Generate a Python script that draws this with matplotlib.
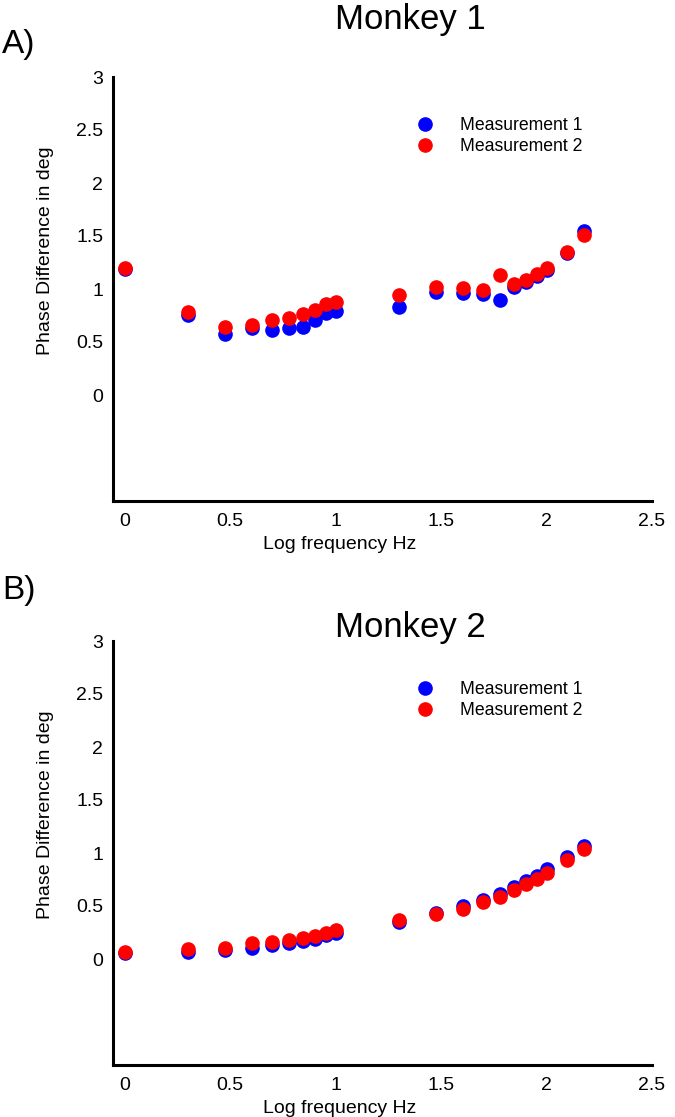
import numpy as np
import matplotlib.pyplot as plt

plt.rcParams['font.family'] = ['Liberation Sans', 'DejaVu Sans']

# stimulation frequencies in Hz (plotted as log10)
freqs = [1, 2, 3, 4, 5, 6, 7, 8, 9, 10, 20, 30, 40, 50, 60, 70, 80, 90, 100, 125, 150]

# Monkey 1
m1_meas1 = [1.19, 0.755, 0.575, 0.63, 0.61, 0.63, 0.645, 0.705, 0.77, 0.79,
            0.83, 0.975, 0.965, 0.955, 0.895, 1.02, 1.07, 1.125, 1.18, 1.34, 1.55]
m1_meas2 = [1.2, 0.785, 0.64, 0.665, 0.705, 0.73, 0.76, 0.80, 0.86, 0.875,
            0.945, 1.015, 1.005, 0.995, 1.13, 1.045, 1.085, 1.14, 1.195, 1.35, 1.51]

# Monkey 2
m2_meas1 = [0.06, 0.07, 0.085, 0.107, 0.135, 0.148, 0.17, 0.192, 0.227, 0.249,
            0.353, 0.43, 0.50, 0.558, 0.615, 0.68, 0.735, 0.785, 0.85, 0.965, 1.07]
m2_meas2 = [0.07, 0.092, 0.107, 0.151, 0.161, 0.177, 0.199, 0.218, 0.249, 0.274,
            0.368, 0.429, 0.476, 0.539, 0.587, 0.653, 0.712, 0.754, 0.816, 0.934, 1.038]

xticks = [0, 0.5, 1, 1.5, 2, 2.5]
xticklabels = ["0", "0.5", "1", "1.5", "2", "2.5"]
yticks = [0, 0.5, 1, 1.5, 2, 2.5, 3]
yticklabels = ["0", "0.5", "1", "1.5", "2", "2.5", "3"]

panels = [
    ("A)", "Monkey 1", m1_meas1, m1_meas2),
    ("B)", "Monkey 2", m2_meas1, m2_meas2),
]

fig = plt.figure(figsize=(6.75, 11.17), dpi=100)
W, H = 675, 1117

# axes boxes in pixels: left, top, right, bottom
boxes = [(113, 77, 652, 501), (113, 641, 652, 1065)]
# letter / title positions in pixels (y of text center)
letter_y = [45, 590]
title_y = [19, 627]

logf = np.log10(freqs)

for (letter, title, meas1, meas2), (l, t, r, b), ly, ty in zip(panels, boxes, letter_y, title_y):
    ax = fig.add_axes([l / W, 1 - b / H, (r - l) / W, (b - t) / H])
    ax.plot(logf, meas1, "o", color="#0000ff", markersize=9.5, label="Measurement 1")
    ax.plot(logf, meas2, "o", color="#ff0000", markersize=9.5, label="Measurement 2")

    ax.set_xlim(-0.055, 2.49)
    ax.set_ylim(-1, 3)
    ax.set_xticks(xticks)
    ax.set_xticklabels(xticklabels)
    ax.set_yticks(yticks)
    ax.set_yticklabels(yticklabels)
    ax.tick_params(length=0, labelsize=14)
    ax.tick_params(axis="y", pad=7)
    ax.tick_params(axis="x", pad=9)

    for side in ["top", "right"]:
        ax.spines[side].set_visible(False)
    for side in ["left", "bottom"]:
        ax.spines[side].set_linewidth(2.2)

    ax.set_xlabel("Log frequency Hz", fontsize=14)
    ax.xaxis.set_label_coords(0.42, -0.083)
    ax.set_ylabel("Phase Difference in deg", fontsize=14)
    ax.yaxis.set_label_coords(-0.11, 0.59)

    ax.legend(loc="upper left", bbox_to_anchor=(0.562, 0.906), frameon=False,
              fontsize=12.7, handlelength=1.0, handletextpad=1.5,
              labelspacing=0.25, borderpad=0, borderaxespad=0, numpoints=1)

    fig.text(410 / W, 1 - ty / H, title, fontsize=25, ha="center", va="center")
    fig.text(2 / W, 1 - ly / H, letter, fontsize=24, ha="left", va="center")

fig.savefig("out.png", dpi=100)
